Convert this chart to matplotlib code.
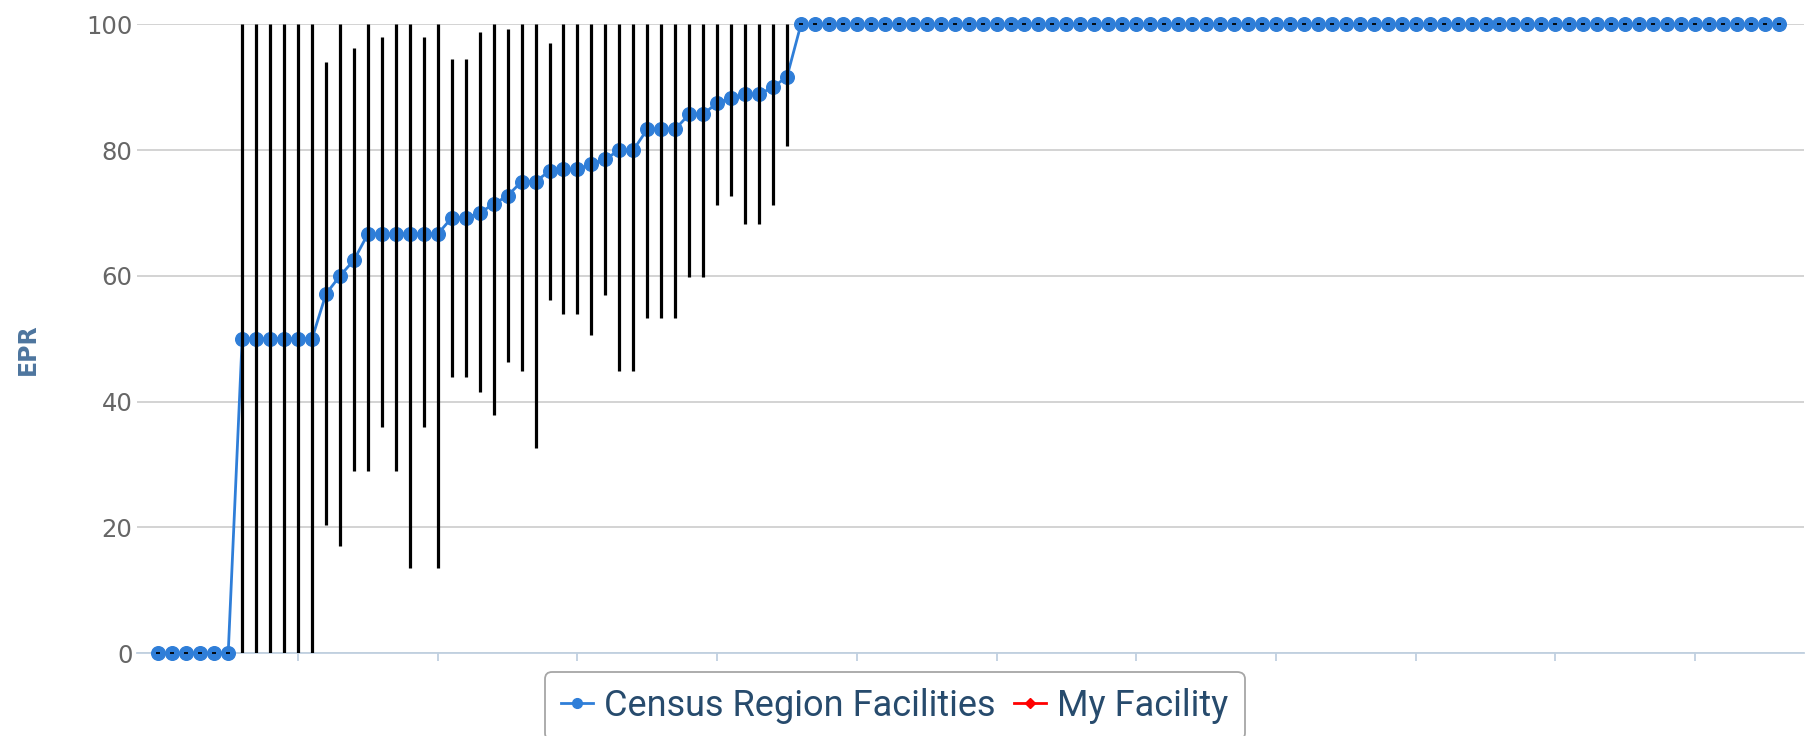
import matplotlib.pyplot as plt
import numpy as np
from matplotlib.lines import Line2D

# EPR per facility, sorted, with the range bar (low / high) for each one
epr = (
    [0.0] * 6
    + [50.0] * 6
    + [57.14, 60.0, 62.5]
    + [66.67] * 6
    + [69.23, 69.23, 70.0, 71.43, 72.73, 75.0, 75.0, 76.67, 76.92, 76.92,
       77.78, 78.57, 80.0, 80.0, 83.33, 83.33, 83.33, 85.71, 85.71, 87.5,
       88.24, 88.89, 88.89, 90.0, 91.67]
    + [100.0] * 71
)
epr_low = (
    [0.0] * 6
    + [0.0] * 6
    + [20.4, 17.1, 28.9, 28.9, 35.9, 28.9, 13.5, 35.9, 13.5, 44.0,
       44.0, 41.6, 37.9, 46.3, 44.9, 32.6, 56.1, 53.9, 53.9, 50.6,
       57.0, 44.9, 44.9, 53.3, 53.3, 53.3, 59.9, 59.9, 71.3, 72.7,
       68.2, 68.2, 71.3, 80.6]
    + [100.0] * 71
)
epr_high = (
    [0.0] * 6
    + [100.0] * 6
    + [94.0, 100.0, 96.2, 100.0, 97.9, 100.0, 100.0, 97.9, 100.0, 94.5,
       94.5, 98.8, 100.0, 99.3, 100.0, 100.0, 97.1]
    + [100.0] * 17
    + [100.0] * 71
)
series_names = ["Census Region Facilities", "My Facility"]
series_colors = ["#2f7ed8", "#ff0000"]
y_ticks = [0, 20, 40, 60, 80, 100]

epr = np.array(epr)
epr_low = np.array(epr_low)
epr_high = np.array(epr_high)
x = np.arange(len(epr))

fig = plt.figure(figsize=(18.13, 7.36), dpi=100)
ax = fig.add_axes([0.0754, 0.1124, 0.9198, 0.8546])

ax.plot(x, epr, color=series_colors[0], lw=2, marker="o", ms=9.8,
        mec=series_colors[0], zorder=3, clip_on=False)
ax.vlines(x, epr_low, epr_high, color="black", lw=2.3, zorder=4)
flat = epr_low == epr_high
ax.plot(x[flat], epr[flat], ls="none", marker="_", ms=3.3, mew=1.3,
        color="black", zorder=5, clip_on=False)

ax.set_xlim(-1.55, 117.82)
ax.set_ylim(0, 100)
ax.set_yticks(y_ticks)
ax.set_xticks(np.arange(10, 111, 10))
ax.set_xticklabels([])
ax.yaxis.grid(True, color="#c8c8c8", lw=1.1)
ax.set_axisbelow(True)
for side in ["top", "right", "left"]:
    ax.spines[side].set_visible(False)
ax.spines["bottom"].set_color("#c0d0e0")
ax.spines["bottom"].set_linewidth(1.3)
ax.tick_params(axis="x", direction="out", length=6, width=1.3, color="#c0d0e0")
ax.tick_params(axis="y", length=0, pad=3, labelsize=17.5, labelcolor="#666666")

ax.set_ylabel("EPR", fontsize=17, fontweight="bold", color="#4d759e")
ax.yaxis.set_label_coords(-0.058, 0.484)

handles = [
    Line2D([], [], color=series_colors[0], lw=2, marker="o", ms=7),
    Line2D([], [], color=series_colors[1], lw=2, marker="D", ms=5),
]
leg = fig.legend(handles, series_names, loc="upper center",
                 bbox_to_anchor=(0.4934, 0.0874), ncol=2, frameon=True,
                 fancybox=True, handlelength=0.9, handletextpad=0.3,
                 columnspacing=0.5, borderpad=0.45, borderaxespad=0,
                 labelcolor="#274b6d",
                 prop={"family": ["Roboto", "DejaVu Sans"], "size": 26})
leg.get_frame().set_edgecolor("#909090")
leg.get_frame().set_linewidth(1.3)

fig.savefig("out.png", dpi=100)
